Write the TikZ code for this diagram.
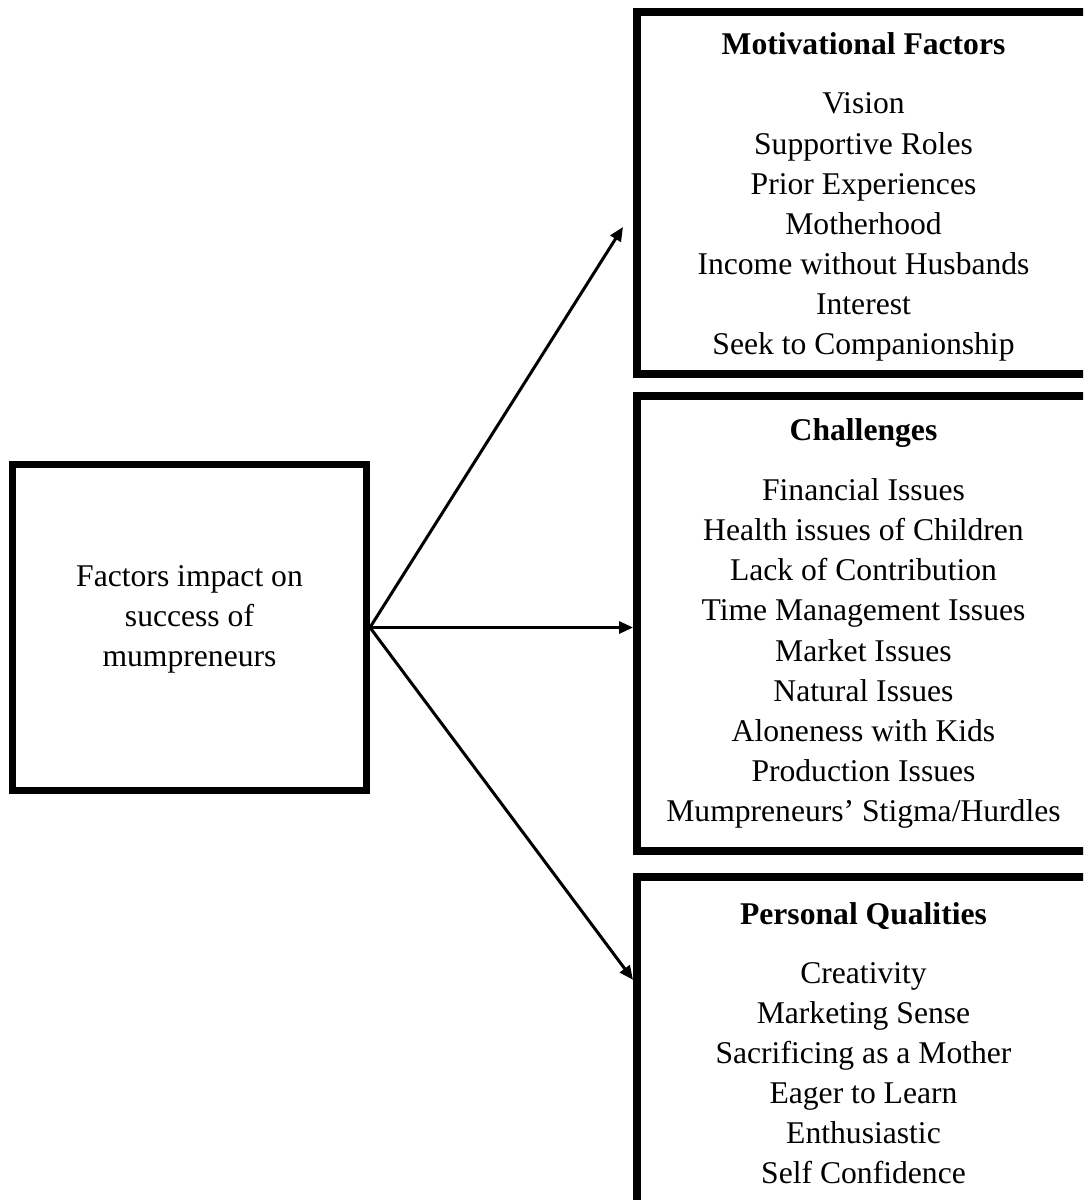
\documentclass[tikz,border=0pt]{standalone}
\usepackage{fontspec}
\setmainfont{Liberation Serif}
\usetikzlibrary{positioning, arrows.meta}

\tikzset{
  box/.style={draw, rectangle, line width=0.16cm, inner sep=0pt, outer sep=0.08cm,
    minimum width=9.06cm, align=center, font=\fontsize{18}{22.8}\selectfont},
  link/.style={-{Triangle[length=0.28cm,width=0.24cm]}, line width=0.06cm},
}

\begin{document}
\begin{tikzpicture}[x=0.02cm, y=-0.02cm]

    \useasboundingbox (0,0) rectangle (1083,1200);
    \clip (0,0) rectangle (1083,1200);

    \node[box, line width=0.14cm, outer sep=0.07cm, minimum width=7.08cm, minimum height=6.52cm] (factors) at (189.5,627.5) {};
    \node[align=center, font=\fontsize{18}{22.8}\selectfont] (factorstext) at (189.5,619)
        {Factors impact on\\ success of\\ mumpreneurs};

    \node[box, minimum height=7.24cm] (motiv) at (863.5,193)
        {\rule{0pt}{0.6cm}\textbf{Motivational Factors}\\[0.38cm] Vision\\ Supportive Roles\\ Prior Experiences\\ Motherhood\\
         Income without Husbands\\ Interest\\ Seek to Companionship};
    \node[box, minimum height=9.1cm] (challenges) [below=0.28cm of motiv]
        {\textbf{Challenges}\\[0.4cm] Financial Issues\\ Health issues of Children\\ Lack of Contribution\\
         Time Management Issues\\ Market Issues\\ Natural Issues\\ Aloneness with Kids\\ Production Issues\\
         Mumpreneurs’ Stigma/Hurdles};
    \node[box, minimum height=6.66cm] (qualities) [below=0.36cm of challenges]
        {\textbf{Personal Qualities}\\[0.37cm] Creativity\\ Marketing Sense\\ Sacrificing as a Mother\\
         Eager to Learn\\ Enthusiastic\\ Self Confidence};

    \coordinate (motivtip) at (623,227);
    \coordinate (qualtip) at ([yshift=1.27cm]qualities.west);

    \draw[link] (factors.east) -- (motivtip);
    \draw[link] (factors.east) -- (factors.east -| challenges.west);
    \draw[link] (factors.east) -- (qualtip);

\end{tikzpicture}
\end{document}
